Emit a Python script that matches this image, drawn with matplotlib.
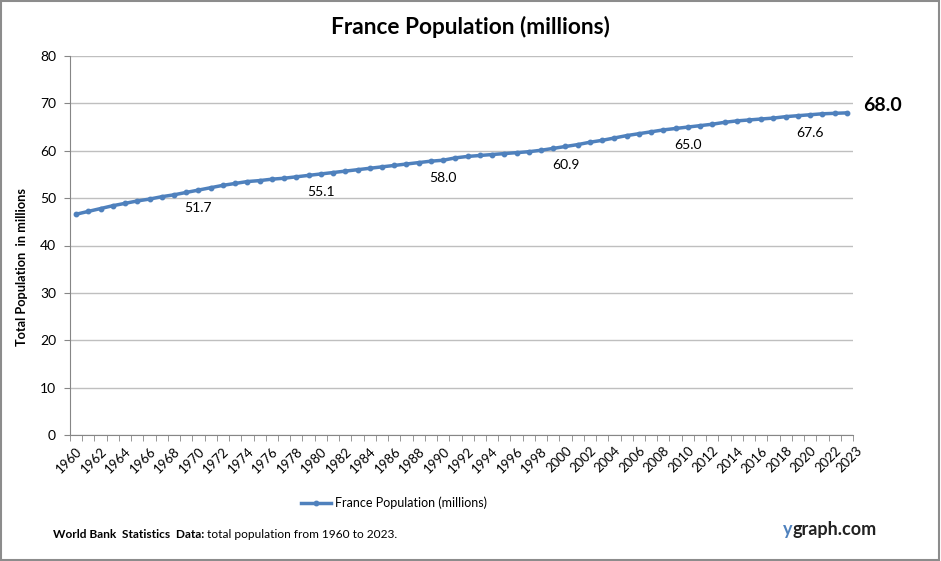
import matplotlib
matplotlib.use("Agg")
import matplotlib.pyplot as plt
from matplotlib.patches import Rectangle
from matplotlib.transforms import blended_transform_factory

years = list(range(1960, 2024))
population = [46.6, 47.2, 47.8, 48.4, 48.9, 49.4, 49.8, 50.3, 50.7, 51.2,
              51.7, 52.2, 52.7, 53.1, 53.5, 53.7, 54.0, 54.2, 54.5, 54.8,
              55.1, 55.4, 55.7, 56.0, 56.3, 56.6, 56.9, 57.2, 57.5, 57.8,
              58.0, 58.5, 58.8, 59.0, 59.2, 59.4, 59.6, 59.8, 60.1, 60.5,
              60.9, 61.3, 61.8, 62.2, 62.7, 63.2, 63.6, 64.0, 64.4, 64.7,
              65.0, 65.3, 65.6, 66.0, 66.3, 66.5, 66.7, 66.9, 67.2, 67.4,
              67.6, 67.8, 67.9, 68.0]
label_years = [1970, 1980, 1990, 2000, 2010, 2020]
tick_labels = [str(y) for y in range(1960, 2023, 2)]
last_tick_label = "2023"
yticks = [0, 10, 20, 30, 40, 50, 60, 70, 80]

FONT = ["Lato", "DejaVu Sans"]
plt.rcParams["font.family"] = FONT

fig = plt.figure(figsize=(9.41, 5.61), dpi=100)
ax = fig.add_axes([70/941, 1-435/561, (853-70)/941, (435-56)/561])

color = "#4F81BD"
x = list(range(len(years)))
ax.plot(x, population, color=color, lw=2.5, marker="o", ms=3.2, zorder=3)

ax.set_xlim(-0.5, len(years)-0.5)
ax.set_ylim(0, 80)
ax.set_yticks(yticks)
ax.set_yticklabels([str(v) for v in yticks], fontsize=10)
ax.grid(axis="y", color="#BFBFBF", lw=1)
ax.set_axisbelow(True)

tick_pos = [years.index(int(t)) for t in tick_labels]
ax.set_xticks(tick_pos)
ax.set_xticklabels(tick_labels, rotation=45, ha="right", va="top", rotation_mode="anchor", fontsize=9.5)
ax.set_xticks([i - 0.5 for i in range(len(years)+1)], minor=True)
ax.tick_params(axis="x", which="major", length=0, pad=7)
ax.tick_params(axis="x", which="minor", length=4, color="#868686")
ax.tick_params(axis="y", length=4, color="#868686", pad=6)
for s in ["top", "right"]:
    ax.spines[s].set_visible(False)
for s in ["left", "bottom"]:
    ax.spines[s].set_color("#868686")

# extra label for the final year, placed one step past the last tick
tr = blended_transform_factory(ax.transData, ax.transAxes)
ax.annotate(last_tick_label, (tick_pos[-1] + 2, 0), xycoords=tr, xytext=(-2, -7),
            textcoords="offset points", rotation=45, ha="right", va="top",
            rotation_mode="anchor", fontsize=9.5, annotation_clip=False)

for yr in label_years:
    i = years.index(yr)
    ax.annotate(f"{population[i]:.1f}", (i, population[i]), xytext=(0, -13),
                textcoords="offset points", ha="center", va="center", fontsize=10)
ax.annotate(f"{population[-1]:.1f}", (len(years)-1, population[-1]), xytext=(12, 5),
            textcoords="offset points", ha="left", va="center", fontsize=14,
            fontweight="bold", annotation_clip=False)

fig.text(22/941, 1-267/561, "Total Population  in millions", rotation=90, ha="center",
         va="center", fontsize=9.2, fontweight="bold")

fig.text(470/941, 1-27/561, "France Population (millions)", ha="center", va="center",
         fontsize=16.3, fontweight="bold")

ax.legend(["France Population (millions)"], loc="center", bbox_to_anchor=(394/941, 1-503/561),
          bbox_transform=fig.transFigure, frameon=False, fontsize=9, handlelength=2.4,
          handletextpad=0.3)

fig.canvas.draw()
renderer = fig.canvas.get_renderer()
t1 = fig.text(53/941, 1-535/561, "World Bank  Statistics  Data:", ha="left", va="center",
              fontsize=8.6, fontweight="bold")
bb = t1.get_window_extent(renderer)
fig.text((bb.x1 + 3)/941, 1-535/561, "total population from 1960 to 2023.", ha="left",
         va="center", fontsize=8.6)
t2 = fig.text(783/941, 1-530/561, "y", ha="left", va="center", fontsize=13,
              fontweight="bold", color="#4F81BD")
bb2 = t2.get_window_extent(renderer)
fig.text(bb2.x1/941, 1-530/561, "graph.com", ha="left", va="center", fontsize=13,
         fontweight="bold", color="#222222")

fig.patches.append(Rectangle((0.001, 0.002), 0.997, 0.996, transform=fig.transFigure,
                             fill=False, edgecolor="#8C8C8C", lw=1.5))

fig.savefig("out.png", dpi=100)
